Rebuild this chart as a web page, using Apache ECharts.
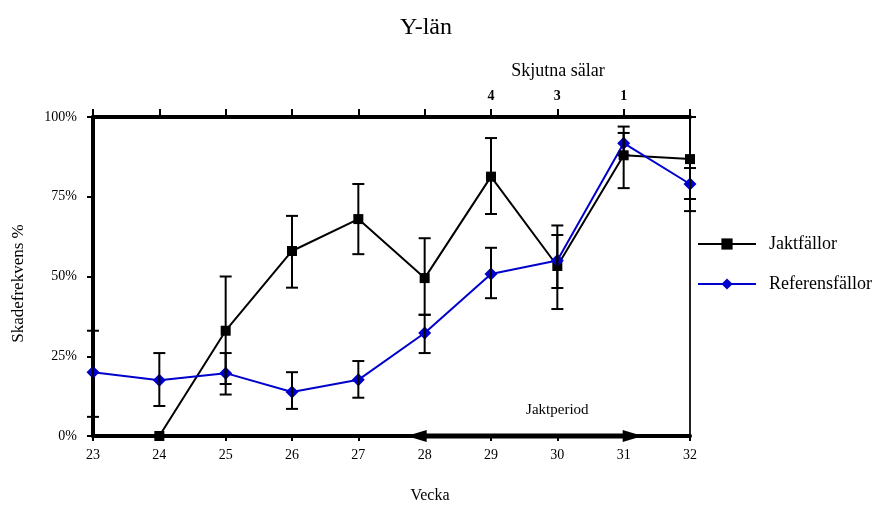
<!DOCTYPE html>
<html>
<head>
<meta charset="utf-8">
<script src="https://cdn.jsdelivr.net/npm/echarts@6/dist/echarts.min.js"></script>
<style>html,body{margin:0;padding:0;background:#fff}#c{width:876px;height:508px}</style>
</head>
<body>
<div id="c"></div>
<script>
const weeks = [23, 24, 25, 26, 27, 28, 29, 30, 31, 32];
const jakt     = [null, 0, 33, 58, 68, 49.5, 81.3, 53.3, 88, 86.8];
const jaktLow  = [null, null, 13, 46.5, 57, 38, 69.6, 39.8, 77.7, 70.5];
const jaktHigh = [null, null, 50, 69, 79, 62, 93.4, 66, 97, 100];
const ref      = [20, 17.5, 19.7, 13.8, 17.6, 32.3, 50.8, 55, 91.8, 79];
const refLow   = [6, 9.4, 16.3, 8.5, 12, 26, 43.2, 46.4, 88, 74.3];
const refHigh  = [33, 26, 26, 20, 23.5, 38, 59, 63, 95, 84];
const seals = {29: '4', 30: '3', 31: '1'};
const huntStart = 28, huntEnd = 31;

const FONT = 'Liberation Serif';
const BLUE = '#0000cc';

const jaktData = weeks.map((w, i) => [w, jakt[i]]).filter(d => d[1] !== null);
const refData = weeks.map((w, i) => [w, ref[i]]);
const errData = [];
weeks.forEach((w, i) => {
  if (jaktLow[i] !== null) errData.push([w, jaktLow[i], jaktHigh[i]]);
  errData.push([w, refLow[i], refHigh[i]]);
});

const chart = echarts.init(document.getElementById('c'));
chart.setOption({
  backgroundColor: '#fff',
  animation: false,
  textStyle: { fontFamily: FONT },
  grid: { left: 93, right: 186, top: 117, bottom: 72 },
  graphic: [
    { type: 'text', style: { text: 'Y-län', x: 426, y: 28, textAlign: 'center', textVerticalAlign: 'middle', font: '24px "Liberation Serif"', fill: '#000' } },
    { type: 'text', style: { text: 'Skjutna sälar', x: 558, y: 71, textAlign: 'center', textVerticalAlign: 'middle', font: '18px "Liberation Serif"', fill: '#000' } },
    { type: 'text', style: { text: 'Vecka', x: 430, y: 496, textAlign: 'center', textVerticalAlign: 'middle', font: '16px "Liberation Serif"', fill: '#000' } }
  ],
  legend: {
    data: ['Jaktfällor', 'Referensfällor'],
    orient: 'vertical', left: 697, top: 235, padding: 0,
    itemWidth: 58, itemHeight: 14, itemGap: 22,
    textStyle: { fontFamily: FONT, fontSize: 18, color: '#000', padding: [0, 0, 0, 8] }
  },
  xAxis: [
    {
      type: 'value', position: 'bottom', min: 23, max: 32, interval: 1,
      axisLine: { onZero: false, lineStyle: { color: '#000', width: 4 } },
      axisTick: { length: 5, lineStyle: { color: '#000', width: 2 } },
      axisLabel: { color: '#000', fontFamily: FONT, fontSize: 14, margin: 12 },
      splitLine: { show: false }
    },
    {
      type: 'value', position: 'top', min: 23, max: 32, interval: 1,
      axisLine: { onZero: false, lineStyle: { color: '#000', width: 4 } },
      axisTick: { length: 8, lineStyle: { color: '#000', width: 2 } },
      axisLabel: { color: '#000', fontFamily: FONT, fontSize: 14, fontWeight: 'bold', margin: 14,
        formatter: v => seals[v] || '' },
      splitLine: { show: false }
    }
  ],
  yAxis: [
    {
      type: 'value', position: 'left', min: 0, max: 100, interval: 25,
      name: 'Skadefrekvens %', nameLocation: 'middle', nameGap: 66, nameRotate: 90,
      nameTextStyle: { color: '#000', fontFamily: FONT, fontSize: 17, padding: [0, 14, 0, 0] },
      axisLine: { onZero: false, lineStyle: { color: '#000', width: 4 } },
      axisTick: { length: 6, lineStyle: { color: '#000', width: 2 } },
      axisLabel: { color: '#000', fontFamily: FONT, fontSize: 14, margin: 16, formatter: '{value}%' },
      splitLine: { show: false }
    },
    {
      type: 'value', position: 'right', min: 0, max: 100, interval: 25,
      axisLine: { show: true, onZero: false, lineStyle: { color: '#222', width: 2 } },
      axisTick: { show: false }, axisLabel: { show: false }, splitLine: { show: false }
    }
  ],
  series: [
    {
      name: 'Jaktfällor', type: 'line', data: jaktData, clip: false, z: 3,
      symbol: 'rect', symbolSize: 10, color: '#000',
      lineStyle: { color: '#000', width: 2 }, itemStyle: { color: '#000' }
    },
    {
      name: 'Referensfällor', type: 'line', data: refData, clip: false, z: 3,
      symbol: 'diamond', symbolSize: 13, color: BLUE,
      lineStyle: { color: BLUE, width: 2 }, itemStyle: { color: BLUE }
    },
    {
      type: 'custom', data: errData, clip: false, z: 4, silent: true,
      renderItem: (params, api) => {
        const x = api.value(0);
        const lo = api.coord([x, api.value(1)]);
        const hi = api.coord([x, api.value(2)]);
        const hw = 6;
        const st = { stroke: '#000', lineWidth: 2 };
        return { type: 'group', children: [
          { type: 'line', shape: { x1: lo[0], y1: lo[1], x2: hi[0], y2: hi[1] }, style: st },
          { type: 'line', shape: { x1: lo[0] - hw, y1: lo[1], x2: lo[0] + hw, y2: lo[1] }, style: st },
          { type: 'line', shape: { x1: hi[0] - hw, y1: hi[1], x2: hi[0] + hw, y2: hi[1] }, style: st }
        ]};
      }
    },
    {
      type: 'custom', data: [[huntStart, huntEnd]], clip: false, z: 5, silent: true,
      renderItem: (params, api) => {
        const a = api.coord([api.value(0), 0]);
        const b = api.coord([api.value(1), 0]);
        const t = api.coord([30, 8]);
        const L = 20, H = 6;
        return { type: 'group', children: [
          { type: 'line', shape: { x1: a[0], y1: a[1], x2: b[0], y2: b[1] }, style: { stroke: '#000', lineWidth: 5 } },
          { type: 'polygon', shape: { points: [[a[0] + 2, a[1] - H], [a[0] + 2, a[1] + H], [a[0] + 2 - L, a[1]]] }, style: { fill: '#000' } },
          { type: 'polygon', shape: { points: [[b[0] - 1, b[1] - H], [b[0] - 1, b[1] + H], [b[0] - 1 + L, b[1]]] }, style: { fill: '#000' } },
          { type: 'text', style: { text: 'Jaktperiod', x: t[0], y: t[1], textAlign: 'center', textVerticalAlign: 'middle', font: '15px "Liberation Serif"', fill: '#000' } }
        ]};
      }
    }
  ]
});
</script>
</body>
</html>
